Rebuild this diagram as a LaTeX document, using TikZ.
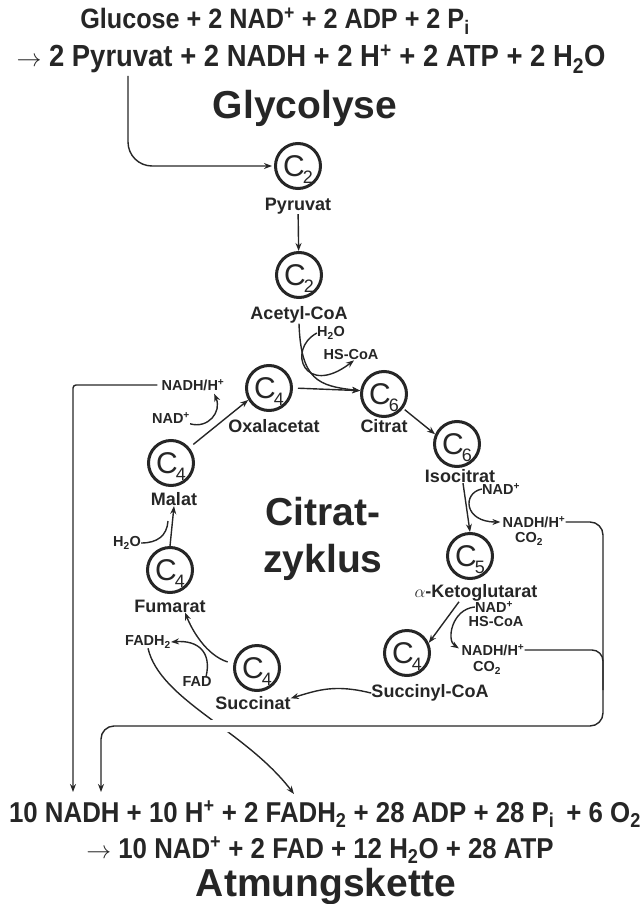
\documentclass[tikz,border=0pt]{standalone}
\usepackage{fontspec}
\setmainfont{Liberation Sans}
\newfontfamily\condfont[FakeStretch=0.9]{Liberation Sans}
\usetikzlibrary{positioning, arrows.meta}
\definecolor{ink}{HTML}{262626}
% carbon count inside a ring
\newcommand{\carb}[1]{C\kern-2pt\smash{\raisebox{-7pt}{\fontsize{18}{18}\selectfont #1}}}

\begin{document}
\begin{tikzpicture}[x=1pt, y=-1pt, >={Stealth[length=8pt, width=6pt]},
    carbon/.style={circle, draw=ink, line width=3pt, minimum size=45pt, inner sep=0pt,
                   text=ink, font=\fontsize{30}{30}\selectfont},
    metab/.style={text=ink, inner sep=0pt, font=\bfseries\fontsize{18}{18}\selectfont},
    minor/.style={text=ink, inner sep=0pt, font=\bfseries\fontsize{14.5}{14.5}\selectfont},
    eqn/.style={text=ink, inner sep=0pt, anchor=base, font=\condfont\bfseries\fontsize{28.7}{28.7}\selectfont},
    title/.style={text=ink, inner sep=0pt, anchor=base, font=\bfseries\fontsize{39}{39}\selectfont},
    wire/.style={draw=ink, line width=1.4pt},
    flow/.style={wire, ->}]
    \useasboundingbox (0,0) rectangle (644,904);

    % Glycolyse
    \node[eqn, font=\condfont\bfseries\fontsize{28}{28}\selectfont] (glc) at (275,29)
        {Glucose + 2 NAD\textsuperscript{+} + 2 ADP + 2 P\textsubscript{i}};
    \node[eqn, font=\condfont\bfseries\fontsize{30.5}{30.5}\selectfont] (pyreq) at (311,67)
        {$\rightarrow$ 2 Pyruvat + 2 NADH + 2 H\textsuperscript{+} + 2 ATP + 2 H\textsubscript{2}O};
    \node[title] (gly) at (305,119) {Glycolyse};

    % rings
    \node[carbon] (pyr)  at (298,166) {\carb{2}};
    \node[carbon] (acc)  at (299,275) {\carb{2}};
    \node[carbon] (oxa)  at (269,388) {\carb{4}};
    \node[carbon] (cit)  at (384,394) {\carb{6}};
    \node[carbon] (iso)  at (457,444) {\carb{6}};
    \node[carbon] (akg)  at (470,556) {\carb{5}};
    \node[carbon] (scoa) at (407,653) {\carb{4}};
    \node[carbon] (succ) at (257,668) {\carb{4}};
    \node[carbon] (fum)  at (170,570) {\carb{4}};
    \node[carbon] (mal)  at (171,463) {\carb{4}};

    \node[metab, below=7.5pt of pyr]               (pyrl)  {Pyruvat};
    \node[metab, below=7.5pt of acc]               (accl)  {Acetyl-CoA};
    \node[metab, below=7.5pt of oxa, xshift=5pt]   (oxal)  {Oxalacetat};
    \node[metab, below=1.5pt of cit]               (citl)  {Citrat};
    \node[metab, below=1.5pt of iso, xshift=3pt]   (isol)  {Isocitrat};
    \node[metab, below=4.5pt of akg, xshift=6pt]   (akgl)  {$\alpha$-Ketoglutarat};
    \node[metab, below=7.5pt of scoa, xshift=23pt] (scoal) {Succinyl-CoA};
    \node[metab, below=4.5pt of succ, xshift=-4pt] (succl) {Succinat};
    \node[metab, below=5.5pt of fum]               (fuml)  {Fumarat};
    \node[metab, below=5.5pt of mal, xshift=3pt]   (mall)  {Malat};

    \node[title] (cz1) at (323,525) {Citrat-};
    \node[title] (cz2) at (323,572) {zyklus};

    % side products
    \node[minor] (h2oa)  at (331,333) {H\textsubscript{2}O};
    \node[minor] (hsa)   at (351,355) {HS-CoA};
    \node[minor] (nadh1) at (193,385) {NADH/H\textsuperscript{+}};
    \node[minor] (nad1)  at (171,418) {NAD\textsuperscript{+}};
    \node[minor] (nad2)  at (501,489) {NAD\textsuperscript{+}};
    \node[minor] (nadh2) at (534,522) {NADH/H\textsuperscript{+}};
    \node[minor] (co2a)  at (529,539) {CO\textsubscript{2}};
    \node[minor] (nad3)  at (494,607) {NAD\textsuperscript{+}};
    \node[minor] (hsb)   at (496,622) {HS-CoA};
    \node[minor] (nadh3) at (493,650) {NADH/H\textsuperscript{+}};
    \node[minor] (co2b)  at (487,668) {CO\textsubscript{2}};
    \node[minor] (fadh)  at (148,642) {FADH\textsubscript{2}};
    \node[minor] (fad)   at (197,682) {FAD};
    \node[minor] (h2ob)  at (127,543) {H\textsubscript{2}O};

    % Atmungskette
    \node[eqn] (resp) at (325,822) {10 NADH + 10 H\textsuperscript{+} + 2 FADH\textsubscript{2} + 28 ADP + 28 P\textsubscript{i}\, + 6 O\textsubscript{2}};
    \node[eqn] (atp)  at (320,858) {$\rightarrow$ 10 NAD\textsuperscript{+} + 2 FAD + 12 H\textsubscript{2}O + 28 ATP};
    \node[title] (atm) at (326,896) {Atmungskette};

    \coordinate (glyout) at (128,76);
    \coordinate (in1) at (73,792);
    \coordinate (in2) at (101,792);
    \coordinate (in3) at (294,794);
    \coordinate (bend) at (603,726);
    \coordinate (malin) at (168,521);

    % into the cycle
    \draw[flow, rounded corners=24pt, shorten >=2pt] (glyout) |- (pyr);
    \draw[flow] (pyrl) -- (acc);
    \draw[flow] (accl.south) .. controls (301,380) and (318,386) .. (cit.172);
    \draw[flow, shorten <=5pt] (oxa.east) -- (cit.172);
    \draw[flow] (h2oa.west) .. controls (286,350) and (305,398) .. ([xshift=3pt]hsa.south);

    % round the cycle
    \draw[flow, shorten <=2pt] (cit.-37) -- (iso.156);
    \draw[flow] ([xshift=3pt]isol.south) -- (akg.north);
    \draw[flow, shorten >=2pt] (nad2.west) .. controls (462,493) and (464,522) .. (nadh2.west);
    \draw[flow] ([xshift=-17pt]akgl.south) -- (scoa.25);
    \draw[flow, shorten >=3pt] (nad3.west) .. controls (452,609) and (446,640) .. (nadh3.west);
    \draw[flow] (scoal.west) .. controls (335,684) and (318,690) .. ([yshift=5pt]succl.east);
    \draw[flow, shorten <=6pt] (succ.170) .. controls (206,655) and (192,630) .. ([xshift=15pt]fuml.south);
    \draw[flow] ([xshift=9pt]fad.north) .. controls (212,652) and (198,640) .. (fadh.east);
    \draw[flow] (fum.north) -- (mall.south);
    \draw[wire] (h2ob.east) .. controls (157,543) and (167,536) .. (malin);
    \draw[flow, shorten <=5pt] (mal.40) -- (oxa.210);
    \draw[flow, shorten >=3pt] (nad1.south east) .. controls (208,429) and (222,412) .. ([xshift=20pt]nadh1.south);

    % out to the respiratory chain
    \draw[flow] (fadh.south) .. controls (160,700) and (245,730) .. (in3);
    \draw[flow, rounded corners=3pt, shorten <=4pt] (nadh1.west) -| (in1);
    \draw[flow, rounded corners=13pt, preaction={draw=white, line width=12pt, -}] (nadh2.east) -| (bend) -| (in2);
    \draw[wire, rounded corners=11pt] (nadh3.east) -| (603,690);
\end{tikzpicture}
\end{document}
